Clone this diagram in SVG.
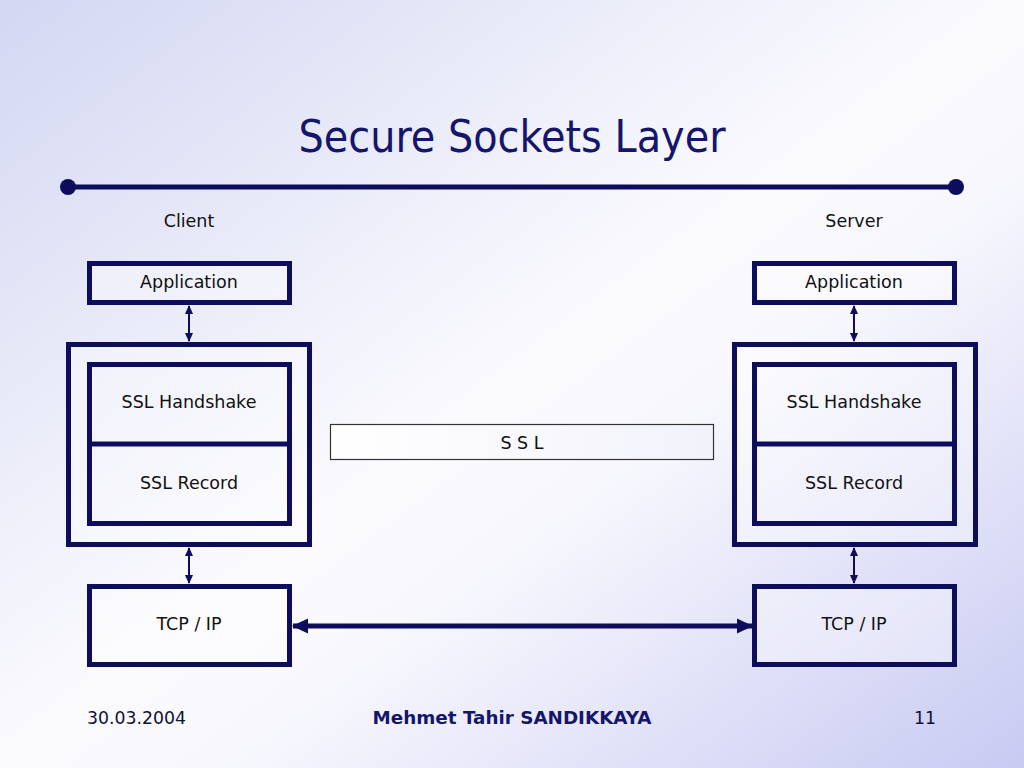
<svg xmlns="http://www.w3.org/2000/svg" width="1024" height="768" viewBox="0 0 1024 768">
<defs>
<linearGradient id="bg" x1="0" y1="0" x2="1" y2="1">
<stop offset="0" stop-color="#d3d7f2"/>
<stop offset="0.5" stop-color="#fbfbfe"/>
<stop offset="0.62" stop-color="#f6f6fd"/>
<stop offset="1" stop-color="#c8caf2"/>
</linearGradient>
<linearGradient id="sslfill" x1="0" y1="0" x2="1" y2="0">
<stop offset="0" stop-color="#ffffff"/>
<stop offset="1" stop-color="#f2f2fb"/>
</linearGradient>
<marker id="sa" markerWidth="9" markerHeight="9" refX="8" refY="4.5" orient="auto-start-reverse" markerUnits="userSpaceOnUse">
<path d="M0,0.5 L9,4.5 L0,8.5 Z" fill="#0d0d5c"/>
</marker>
<marker id="ba" markerWidth="16" markerHeight="16" refX="15" refY="8" orient="auto-start-reverse" markerUnits="userSpaceOnUse">
<path d="M0,0.5 L16,8 L0,15.5 Z" fill="#0d0d5c"/>
</marker>
</defs>
<style>
.box{fill:none;stroke:#0d0d5c;stroke-width:5}
.wbox{fill:#ffffff;fill-opacity:0.35;stroke:#0d0d5c;stroke-width:5}
.t{font-family:"DejaVu Sans","Liberation Sans",sans-serif;font-size:17.5px;fill:#111111;text-anchor:middle}
.small{stroke:#0d0d5c;stroke-width:2;fill:none}
.big{stroke:#0d0d5c;stroke-width:5;fill:none}
.f{font-family:"DejaVu Sans","Liberation Sans",sans-serif;font-size:17.3px;fill:#111133}
</style>
<rect x="0" y="0" width="1024" height="768" fill="url(#bg)"/>

<g id="title">
<text x="512" y="152" font-family="DejaVu Sans Condensed,'Liberation Sans',sans-serif" font-size="44" fill="#15156b" text-anchor="middle" textLength="427" lengthAdjust="spacingAndGlyphs">Secure Sockets Layer</text>
<line x1="68" y1="187" x2="956" y2="187" stroke="#0d0d5c" stroke-width="5"/>
<circle cx="68" cy="187" r="8" fill="#0d0d5c"/>
<circle cx="956" cy="187" r="8" fill="#0d0d5c"/>
</g>

<g id="client-label"><text class="t" x="189" y="227">Client</text></g>
<g id="server-label"><text class="t" x="854" y="227">Server</text></g>

<g id="client-app">
<rect class="wbox" x="89.5" y="263.5" width="200" height="39"/>
<text class="t" x="189" y="288">Application</text>
</g>
<g id="client-ssl">
<rect class="wbox" x="68.5" y="344.5" width="241" height="200"/>
<rect class="box" x="89.5" y="364.5" width="200" height="159"/>
<line x1="89.5" y1="444" x2="289.5" y2="444" stroke="#0d0d5c" stroke-width="5"/>
<text class="t" x="189" y="408">SSL Handshake</text>
<text class="t" x="189" y="489">SSL Record</text>
</g>
<g id="client-tcp">
<rect class="wbox" x="89.5" y="586.5" width="200" height="78"/>
<text class="t" x="189" y="630">TCP / IP</text>
</g>

<g id="server-app">
<rect class="wbox" x="754.5" y="263.5" width="200" height="39"/>
<text class="t" x="854" y="288">Application</text>
</g>
<g id="server-ssl">
<rect class="wbox" x="734.5" y="344.5" width="241" height="200"/>
<rect class="box" x="754.5" y="364.5" width="200" height="159"/>
<line x1="754.5" y1="444" x2="954.5" y2="444" stroke="#0d0d5c" stroke-width="5"/>
<text class="t" x="854" y="408">SSL Handshake</text>
<text class="t" x="854" y="489">SSL Record</text>
</g>
<g id="server-tcp">
<rect class="wbox" x="754.5" y="586.5" width="200" height="78"/>
<text class="t" x="854" y="630">TCP / IP</text>
</g>

<g id="ssl">
<rect x="330.5" y="424.5" width="383" height="35" fill="url(#sslfill)" stroke="#333333" stroke-width="1.2"/>
<text class="t" x="522" y="449">S S L</text>
</g>

<g id="connectors">
<line class="small" x1="189" y1="306" x2="189" y2="341" marker-start="url(#sa)" marker-end="url(#sa)"/>
<line class="small" x1="189" y1="548" x2="189" y2="583" marker-start="url(#sa)" marker-end="url(#sa)"/>
<line class="small" x1="854" y1="306" x2="854" y2="341" marker-start="url(#sa)" marker-end="url(#sa)"/>
<line class="small" x1="854" y1="548" x2="854" y2="583" marker-start="url(#sa)" marker-end="url(#sa)"/>
<line class="big" x1="293" y1="626" x2="752" y2="626" marker-start="url(#ba)" marker-end="url(#ba)"/>
</g>

<g id="footer">
<text class="f" x="87" y="724">30.03.2004</text>
<text x="512" y="724" font-family="DejaVu Sans,'Liberation Sans',sans-serif" font-size="18.5" font-weight="bold" fill="#15156b" text-anchor="middle" textLength="279" lengthAdjust="spacingAndGlyphs">Mehmet Tahir SANDIKKAYA</text>
<text class="f" x="936" y="724" text-anchor="end">11</text>
</g>
</svg>
